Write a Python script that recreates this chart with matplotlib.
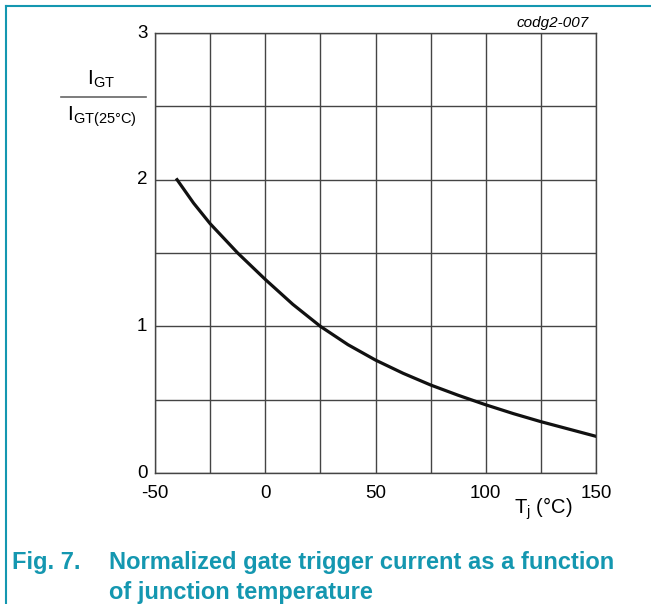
import matplotlib
matplotlib.use("Agg")
import matplotlib.pyplot as plt
from matplotlib.lines import Line2D

plt.rcParams['font.family'] = ['Liberation Sans', 'DejaVu Sans']

# data
tj = [-40, -32.5, -25, -12.5, 0, 12.5, 25, 37.5, 50, 62.5, 75, 87.5, 100, 112.5, 125, 137.5, 150]
igt_norm = [2.0, 1.84, 1.70, 1.50, 1.32, 1.15, 1.0, 0.875, 0.77, 0.68, 0.60, 0.53,
            0.465, 0.405, 0.35, 0.30, 0.25]

x_ticks = [-50, 0, 50, 100, 150]
y_ticks = [0, 1, 2, 3]

teal = '#1497b0'
grid_col = '#444444'

fig = plt.figure(figsize=(6.51, 6.04), dpi=100)
ax = fig.add_axes([155 / 651, 1 - 473 / 604, 441 / 651, 440 / 604])

ax.plot(tj, igt_norm, color='#111111', lw=2.3, solid_joinstyle='round')

ax.set_xlim(-50, 150)
ax.set_ylim(0, 3)
ax.set_xticks(range(-50, 151, 25))
ax.set_yticks([i * 0.5 for i in range(7)])
ax.grid(True, color=grid_col, lw=1)
ax.tick_params(length=0, labelbottom=False, labelleft=False)
for s in ax.spines.values():
    s.set_color(grid_col)
    s.set_linewidth(1)

for v in x_ticks:
    ax.text(v, -0.085, str(v), ha='center', va='top', fontsize=13.5)
for v in y_ticks:
    ax.text(-53.5, v, str(v), ha='right', va='center', fontsize=13.5)

# y-axis label as a fraction
fig.text(101 / 651, 1 - 79 / 604, r'I$_{\mathregular{GT}}$', ha='center', va='center', fontsize=15)
fig.add_artist(Line2D([61 / 651, 146 / 651], [1 - 96.5 / 604] * 2, color='#666666', lw=1.2))
fig.text(102 / 651, 1 - 117 / 604, r'I$_{\mathregular{GT(25°C)}}$', ha='center', va='center', fontsize=15)

fig.text(543 / 651, 1 - 509 / 604, r'T$_{\mathregular{j}}$ (°C)', ha='center', va='center', fontsize=14.5)
fig.text(589 / 651, 1 - 23 / 604, 'codg2-007', ha='right', va='center', fontsize=11, style='italic')

# frame
fig.add_artist(Line2D([6 / 651, 1], [1 - 6 / 604] * 2, color=teal, lw=1.5))
fig.add_artist(Line2D([6 / 651, 6 / 651], [0, 1 - 6 / 604], color=teal, lw=1.5))

fig.text(12 / 651, 1 - 563 / 604, 'Fig. 7.', ha='left', va='center', fontsize=17, weight='bold', color=teal)
fig.text(109 / 651, 1 - 563 / 604, 'Normalized gate trigger current as a function', ha='left', va='center',
         fontsize=17, weight='bold', color=teal)
fig.text(109 / 651, 1 - 592 / 604, 'of junction temperature', ha='left', va='center',
         fontsize=17, weight='bold', color=teal)

fig.savefig('out.png', dpi=100)
